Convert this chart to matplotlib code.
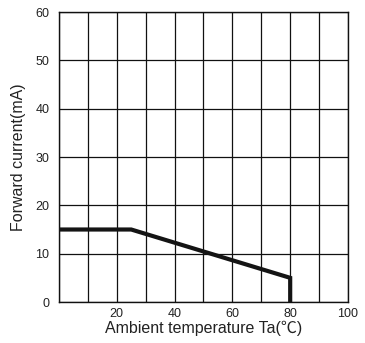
import matplotlib
matplotlib.use("Agg")
import matplotlib.pyplot as plt

# derating curve
temp_c = [0, 25, 80, 80]
current_ma = [15, 15, 5, 0]

x_ticks = [20, 40, 60, 80, 100]
y_ticks = [0, 10, 20, 30, 40, 50, 60]
grid_x = list(range(0, 101, 10))

FONT = ["Liberation Sans", "Noto Sans CJK SC", "DejaVu Sans"]
plt.rcParams["font.family"] = FONT

fig = plt.figure(figsize=(3.65, 3.43), dpi=100)
ax = fig.add_axes((0.1616, 0.1195, 0.7918, 0.8455))

ax.set_xlim(0, 100)
ax.set_ylim(0, 60)
ax.set_xticks(grid_x, minor=True)
ax.set_xticks(x_ticks)
ax.set_yticks(y_ticks)
ax.grid(True, which="both", axis="x", color="#111111", lw=0.9)
ax.grid(True, which="major", axis="y", color="#111111", lw=0.9)
ax.tick_params(which="both", length=0)
ax.tick_params(axis="x", pad=4, labelsize=9, colors="#222222")
ax.tick_params(axis="y", pad=7, labelsize=9, colors="#222222")
for s in ax.spines.values():
    s.set_color("#111111")
    s.set_linewidth(1.0)

ax.plot(temp_c, current_ma, color="#141414", lw=3.0, solid_joinstyle="miter", zorder=3)

ax.set_xlabel("Ambient temperature Ta(℃)", fontsize=11.5, labelpad=1, color="#222222")
ax.set_ylabel("Forward current(mA)", fontsize=11.5, labelpad=7, color="#222222")

fig.savefig("out.png", dpi=100)
